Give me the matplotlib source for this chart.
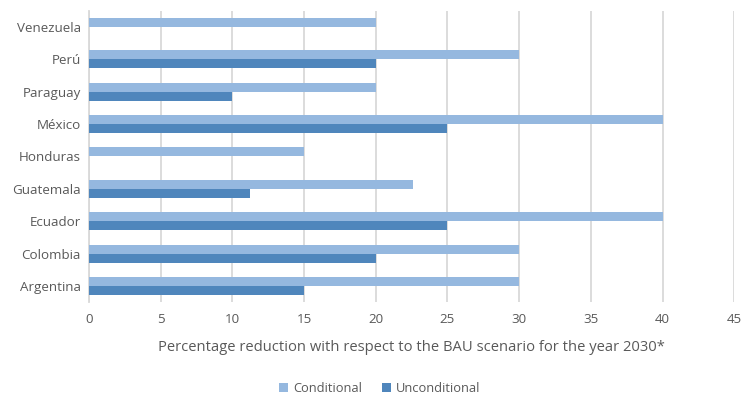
import numpy as np
import matplotlib
matplotlib.use("Agg")
import matplotlib.pyplot as plt

countries = ["Argentina", "Colombia", "Ecuador", "Guatemala", "Honduras",
             "México", "Paraguay", "Perú", "Venezuela"]
conditional = [30, 30, 40, 22.6, 15, 40, 20, 30, 20]
unconditional = [15, 20, 25, 11.2, 0, 25, 10, 20, 0]
xticks = [0, 5, 10, 15, 20, 25, 30, 35, 40, 45]

plt.rcParams['font.family'] = ['Open Sans', 'DejaVu Sans']
grey = '#595959'

fig = plt.figure(figsize=(7.45, 3.97), dpi=100)
ax = fig.add_axes([0.1195, 0.2388, 0.866, 0.734])

y = np.arange(len(countries))
h = 0.28
ax.barh(y + h / 2, conditional, height=h, color='#95b8df', label='Conditional', zorder=3)
ax.barh(y - h / 2, unconditional, height=h, color='#4f86bc', label='Unconditional', zorder=3)

ax.set_xlim(0, 45)
ax.set_ylim(-0.5, len(countries) - 0.5)
ax.set_xticks(xticks)
ax.set_yticks(y)
ax.set_yticklabels(countries)
ax.grid(axis='x', color='#d9d9d9', linewidth=1.3, zorder=0)
for s in ['top', 'right', 'bottom']:
    ax.spines[s].set_visible(False)
ax.spines['left'].set_color('#d9d9d9')
ax.spines['left'].set_linewidth(1.3)
ax.tick_params(length=0, colors=grey, labelsize=9.6)
ax.tick_params(axis='x', pad=8)
ax.tick_params(axis='y', pad=6)

ax.set_xlabel('Percentage reduction with respect to the BAU scenario for the year 2030*',
              color=grey, fontsize=10.6, labelpad=10)

fig.legend(loc='center', bbox_to_anchor=(0.51, 0.022), ncol=2, frameon=False,
           fontsize=9.3, labelcolor=grey, handlelength=0.7, handleheight=0.7,
           columnspacing=1.5, handletextpad=0.4, borderpad=0.1)

fig.savefig('out.png', dpi=100)
